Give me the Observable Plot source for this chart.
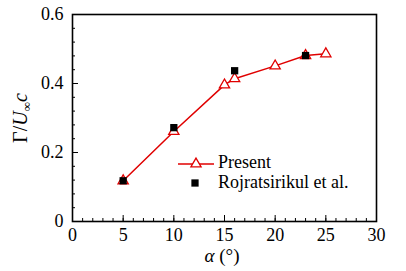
<!DOCTYPE html>
<html><head><meta charset="utf-8">
<script src="https://cdn.jsdelivr.net/npm/d3@7"></script>
<script src="https://cdn.jsdelivr.net/npm/@observablehq/plot@0.6"></script>
<style>
body{margin:0;background:#fff}
svg{display:block}
#chart svg, #chart svg text { font-family: "Liberation Serif", "Times New Roman", serif !important; }
</style>
</head><body><div id="chart"></div>
<script>
const presentAlpha = [5, 10, 15, 16, 20, 23, 25];
const presentGamma = [0.118, 0.261, 0.396, 0.414, 0.451, 0.481, 0.486];
const rojAlpha = [5, 10, 16, 23];
const rojGamma = [0.118, 0.272, 0.437, 0.481];
const xTicks = [0, 5, 10, 15, 20, 25, 30];
const yTicks = [0, 0.2, 0.4, 0.6];
const yTickLabels = ["0", "0.2", "0.4", "0.6"];
const xMinor = d3.range(0, 31, 1);
const yMinor = d3.range(0, 0.601, 0.04);
const legendLabels = ["Present", "Rojratsirikul et al."];

const present = presentAlpha.map((a, i) => ({a, g: presentGamma[i]}));
const roj = rojAlpha.map((a, i) => ({a, g: rojGamma[i]}));

const W = 406, H = 271, mL = 72, mR = 30, mT = 14, mB = 50;
const pw = W - mL - mR, ph = H - mT - mB;
const RED = "#e00000";

const svg = Plot.plot({
  width: W, height: H,
  marginLeft: mL, marginRight: mR, marginTop: mT, marginBottom: mB,
  style: {fontSize: "18px", background: "#fff", color: "#000"},
  x: {domain: [0, 30], label: null},
  y: {domain: [0, 0.6], label: null},
  marks: [
    Plot.tickX(xMinor, {x: d => d, insetTop: ph - 3, strokeWidth: 1}),
    Plot.tickX(xTicks, {x: d => d, insetTop: ph - 6, strokeWidth: 1}),
    Plot.tickY(yMinor, {y: d => d, insetRight: pw - 3, strokeWidth: 1}),
    Plot.tickY(yTicks, {y: d => d, insetRight: pw - 6, strokeWidth: 1}),
    Plot.axisX({ticks: xTicks, tickSize: 0, tickPadding: 7, tickFormat: d => String(d), fontSize: 18}),
    Plot.axisY({ticks: yTicks, tickSize: 0, tickPadding: 9, tickFormat: (d, i) => yTickLabels[i], fontSize: 18}),
    Plot.line(present, {x: "a", y: "g", stroke: RED, strokeWidth: 1.5}),
    Plot.dot(present, {x: "a", y: "g", symbol: "triangle", r: 3.8, stroke: RED, fill: "white", strokeWidth: 1.3}),
    Plot.dot(roj, {x: "a", y: "g", symbol: "square", r: 4.1, fill: "black", stroke: "none"}),
    Plot.frame({strokeWidth: 1.6})
  ]
});
document.getElementById("chart").appendChild(svg);

const s = d3.select(svg);
// x label
const xl = s.append("text").attr("x", 222).attr("y", 262).attr("text-anchor", "middle")
  .attr("font-size", 19);
xl.append("tspan").attr("font-style", "italic").text("α");
xl.append("tspan").text(" (°)");
// y label
const yl = s.append("text").attr("transform", "translate(27,118) rotate(-90)").attr("text-anchor", "middle")
  .attr("font-size", 20);
yl.append("tspan").text("Γ/");
yl.append("tspan").attr("font-style", "italic").text("U");
yl.append("tspan").attr("font-size", 13).attr("dy", 4).text("∞");
yl.append("tspan").attr("font-style", "italic").attr("dy", -4).text("c");

// legend
const lg = s.append("g").attr("text-anchor", "start");
lg.append("line").attr("x1", 178).attr("x2", 214).attr("y1", 164).attr("y2", 164)
  .attr("stroke", RED).attr("stroke-width", 1.5);
lg.append("path").attr("d", d3.symbol(d3.symbolTriangle, Math.PI * 3.8 * 3.8)())
  .attr("transform", "translate(196,164)").attr("fill", "white").attr("stroke", RED).attr("stroke-width", 1.3);
lg.append("path").attr("d", d3.symbol(d3.symbolSquare, Math.PI * 4.1 * 4.1)())
  .attr("transform", "translate(195,183)").attr("fill", "black");
lg.append("text").attr("x", 218).attr("y", 168).attr("font-size", 18).text(legendLabels[0]);
lg.append("text").attr("x", 218).attr("y", 187.5).attr("font-size", 18).text(legendLabels[1]);
</script>
</body></html>
